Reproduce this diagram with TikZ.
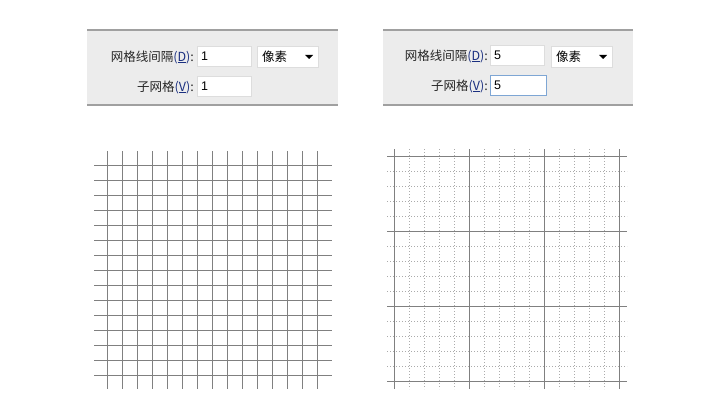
\documentclass[tikz,border=0pt]{standalone}
\usepackage{fontspec}
\setmainfont{Liberation Sans}
\newfontfamily\cjk{Noto Sans CJK SC}
\definecolor{panelbg}{HTML}{ECECEC}
\definecolor{panelline}{HTML}{A0A0A0}
\definecolor{boxline}{HTML}{DDDDDD}
\definecolor{focusline}{HTML}{7EA6D4}
\definecolor{keyblue}{HTML}{1A2F80}
\definecolor{gridsolid}{HTML}{808080}
\definecolor{griddot}{HTML}{ABABAB}
\newcommand{\keyed}[1]{\textcolor{keyblue}{(\underline{#1})}}
\tikzset{
  lbl/.style={anchor=east,inner sep=0pt,font=\cjk\fontsize{12.5}{14}\selectfont,text=black!85},
  field/.style={draw=boxline,fill=white,line width=0.8pt,minimum width=54pt,minimum height=20pt,anchor=north west,inner sep=0pt},
  focusfield/.style={field,draw=focusline},
  val/.style={anchor=west,inner sep=0pt,font=\fontsize{12.5}{14}\selectfont},
  unit/.style={anchor=west,inner sep=0pt,font=\cjk\fontsize{12.5}{14}\selectfont},
  panel/.style={fill=panelbg,draw=none},
  pline/.style={draw=panelline,line width=1.3pt},
  gline/.style={draw=gridsolid,line width=1pt},
  dline/.style={draw=griddot,line width=1pt,dash pattern=on 1pt off 2pt},
}
\begin{document}
\begin{tikzpicture}[x=1pt,y=-1pt]
\useasboundingbox[fill=white] (0,0) rectangle (720,420);
% ---------- left panel ----------
\fill[panel] (87,30) rectangle (338,105);
\draw[pline] (87,30) -- (338,30);
\draw[pline] (87,105) -- (338,105);
\node[lbl] (l1) at (194,57) {网格线间隔\keyed{D}:};
\node[lbl] (l2) at (194,87) {子网格\keyed{V}:};
\node[field] (lb1) at (197,46) {};
\node[val] (lv1) at (201,56.5) {1};
\node[field,minimum width=61pt,minimum height=21pt] (ld) at (257,46) {};
\node[unit] (lu) at (262,57) {像素};
\fill (305,55) -- (313,55) -- (309,59) -- cycle;
\node[field] (lb2) at (197,76) {};
\node[val] (lv2) at (201,86.5) {1};
% ---------- right panel ----------
\fill[panel] (383,30) rectangle (633,105);
\draw[pline] (383,30) -- (633,30);
\draw[pline] (383,105) -- (633,105);
\node[lbl] (r1) at (488,56) {网格线间隔\keyed{D}:};
\node[lbl] (r2) at (488,86) {子网格\keyed{V}:};
\node[field] (rb1) at (490,45) {};
\node[val] (rv1) at (494,55.5) {5};
\node[field,minimum width=61pt,minimum height=21pt] (rd) at (551,46) {};
\node[unit] (ru) at (556,57) {像素};
\fill (599,55) -- (607,55) -- (603,59) -- cycle;
\node[focusfield,minimum width=56pt] (rb2) at (490,75) {};
\node[val] (rv2) at (494,85.5) {5};
% ---------- left grid ----------
\foreach \i in {0,...,14} {
  \draw[gline] (107+15*\i,151) -- (107+15*\i,389);
  \draw[gline] (94,165+15*\i) -- (332,165+15*\i);
}
% ---------- right grid ----------
\foreach \i in {1,2,3,4,6,7,8,9,11,12,13,14} {
  \draw[dline] (394+15*\i,149) -- (394+15*\i,389);
  \draw[dline] (387,156+15*\i) -- (627,156+15*\i);
}
\foreach \i in {0,5,10,15} {
  \draw[gline] (394+15*\i,149) -- (394+15*\i,389);
  \draw[gline] (387,156+15*\i) -- (627,156+15*\i);
}
\end{tikzpicture}
\end{document}
